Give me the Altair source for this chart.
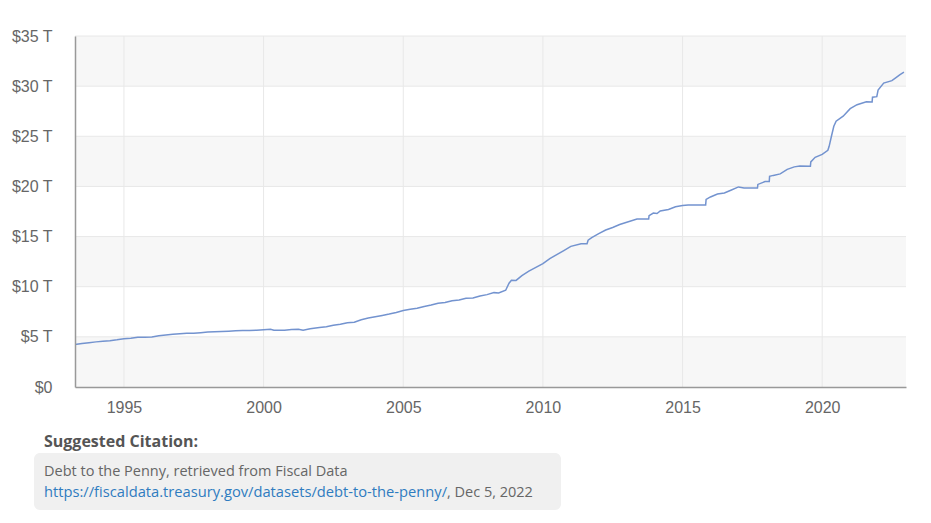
import altair as alt
import pandas as pd

# ---- data ----
dates = [
    "1993-04-01", "1993-07-01", "1993-10-01", "1994-01-01", "1994-04-01", "1994-07-01", "1994-10-01",
    "1995-01-01", "1995-04-01", "1995-07-01", "1995-10-01", "1996-01-01", "1996-04-01", "1996-07-01",
    "1996-10-01", "1997-01-01", "1997-04-01", "1997-07-01", "1997-10-01", "1998-01-01", "1998-04-01",
    "1998-07-01", "1998-10-01", "1999-01-01", "1999-04-01", "1999-07-01", "1999-10-01", "2000-01-01",
    "2000-04-01", "2000-05-15", "2000-07-01", "2000-10-01", "2001-01-01", "2001-04-01", "2001-06-01",
    "2001-09-01", "2002-01-01", "2002-04-01", "2002-07-01", "2002-10-01", "2003-01-01", "2003-04-01",
    "2003-07-01", "2003-10-01", "2004-01-01", "2004-04-01", "2004-07-01", "2004-10-01", "2005-01-01",
    "2005-04-01", "2005-07-01", "2005-10-01", "2006-01-01", "2006-04-01", "2006-07-01", "2006-10-01",
    "2007-01-01", "2007-04-01", "2007-07-01", "2007-10-01", "2008-01-01", "2008-04-01", "2008-06-01",
    "2008-09-01", "2008-10-15", "2008-11-15", "2009-01-15", "2009-04-01", "2009-07-01", "2009-10-01",
    "2010-01-01", "2010-04-01", "2010-07-01", "2010-10-01", "2011-01-01", "2011-05-15", "2011-08-01",
    "2011-08-15", "2011-10-01", "2012-01-01", "2012-04-01", "2012-07-01", "2012-10-01", "2013-01-01",
    "2013-05-15", "2013-10-15", "2013-10-20", "2013-12-15", "2014-02-01", "2014-03-15", "2014-07-01",
    "2014-10-01", "2015-01-01", "2015-03-15", "2015-10-30", "2015-11-05", "2016-01-01", "2016-04-01",
    "2016-07-01", "2016-10-01", "2017-01-01", "2017-03-15", "2017-09-07", "2017-09-12", "2017-12-15",
    "2018-02-08", "2018-02-12", "2018-04-01", "2018-07-01", "2018-10-01", "2019-01-01", "2019-03-15",
    "2019-07-31", "2019-08-05", "2019-10-01", "2020-01-01", "2020-03-15", "2020-04-01", "2020-05-01",
    "2020-06-01", "2020-07-01", "2020-10-01", "2021-01-01", "2021-04-01", "2021-08-01", "2021-10-15",
    "2021-10-20", "2021-12-15", "2022-01-01", "2022-03-15", "2022-07-01", "2022-09-01", "2022-10-15",
    "2022-12-05",
]
debt = [
    4.23, 4.33, 4.42, 4.50, 4.57, 4.62, 4.70,
    4.80, 4.86, 4.95, 4.97, 4.99, 5.12, 5.18,
    5.25, 5.31, 5.36, 5.35, 5.42, 5.49, 5.51,
    5.53, 5.56, 5.60, 5.64, 5.64, 5.67, 5.71,
    5.75, 5.65, 5.66, 5.67, 5.73, 5.75, 5.66,
    5.80, 5.93, 6.00, 6.16, 6.25, 6.40, 6.46,
    6.70, 6.87, 7.00, 7.14, 7.27, 7.43, 7.62,
    7.76, 7.86, 8.03, 8.17, 8.36, 8.42, 8.60,
    8.68, 8.85, 8.87, 9.08, 9.21, 9.41, 9.38,
    9.65, 10.35, 10.65, 10.63, 11.10, 11.55, 11.93,
    12.30, 12.80, 13.20, 13.60, 14.02, 14.29, 14.29,
    14.64, 14.90, 15.30, 15.65, 15.90, 16.20, 16.43,
    16.74, 16.74, 17.08, 17.35, 17.30, 17.55, 17.70,
    17.98, 18.10, 18.15, 18.15, 18.70, 18.95, 19.25,
    19.35, 19.65, 19.95, 19.85, 19.85, 20.20, 20.49,
    20.50, 21.00, 21.10, 21.25, 21.70, 21.95, 22.03,
    22.02, 22.45, 22.90, 23.20, 23.60, 24.00, 25.00,
    26.00, 26.50, 27.00, 27.75, 28.15, 28.45, 28.43,
    28.90, 28.95, 29.60, 30.30, 30.55, 30.90, 31.15,
    31.40,
]
band_low = [0, 10, 20, 30]
band_high = [5, 15, 25, 35]
y_ticks = [0, 5, 10, 15, 20, 25, 30, 35]
x_tick_years = [1995, 2000, 2005, 2010, 2015, 2020]

citation_title = "Suggested Citation:"
citation_line1 = "Debt to the Penny, retrieved from Fiscal Data"
citation_link = "https://fiscaldata.treasury.gov/datasets/debt-to-the-penny/"
citation_date = ", Dec 5, 2022"

W, H = 831, 351

df = pd.DataFrame({"date": dates, "debt": debt})
bands = pd.DataFrame({"lo": band_low, "hi": band_high})
hgrid = pd.DataFrame({"v": y_ticks[1:]})
vgrid = pd.DataFrame({"d": [f"{y}-01-01" for y in x_tick_years]})

xscale = alt.Scale(domain=[alt.DateTime(year=1993, month=4, date=1),
                           alt.DateTime(year=2023, month=1, date=1)])
yscale = alt.Scale(domain=[0, 35], nice=False)

xaxis = alt.Axis(values=[alt.DateTime(year=y, month=1, date=1) for y in x_tick_years],
                 format="%Y", ticks=False, grid=False, domainColor="#999999",
                 domainWidth=1.5, labelColor="#666666", labelFont="Liberation Sans",
                 labelFontSize=16, labelPadding=12, title=None, zindex=1)
yaxis = alt.Axis(values=y_ticks, ticks=False, grid=False, domainColor="#999999",
                 domainWidth=1.5, labelColor="#666666", labelFont="Liberation Sans",
                 labelFontSize=16, labelPadding=23, title=None, zindex=1,
                 labelExpr="datum.value == 0 ? '$0' : '$' + datum.value + ' T'")

band_layer = alt.Chart(bands).mark_rect(color="#f7f7f7").encode(
    x=alt.value(0), x2=alt.value(W),
    y=alt.Y("lo:Q", scale=yscale, axis=yaxis), y2="hi:Q")

hgrid_layer = alt.Chart(hgrid).mark_rule(color="#e8e8e8", strokeWidth=1).encode(
    x=alt.value(0), x2=alt.value(W),
    y=alt.Y("v:Q", scale=yscale, axis=yaxis))

vgrid_layer = alt.Chart(vgrid).mark_rule(color="#e8e8e8", strokeWidth=1).encode(
    x=alt.X("d:T", scale=xscale, axis=xaxis),
    y=alt.value(0), y2=alt.value(H))

line = alt.Chart(df).mark_line(color="#7393cf", strokeWidth=1.5).encode(
    x=alt.X("date:T", scale=xscale, axis=xaxis),
    y=alt.Y("debt:Q", scale=yscale, axis=yaxis),
)

box = alt.Chart(pd.DataFrame({"a": [0]})).mark_rect(color="#f0f0f0", cornerRadius=6).encode(
    x=alt.value(-41), x2=alt.value(486), y=alt.value(417), y2=alt.value(474))


def txt(s, x, y, color, weight="normal", size=14.5):
    return alt.Chart(pd.DataFrame({"t": [s]})).mark_text(
        align="left", baseline="alphabetic", font="Open Sans", fontSize=size,
        fontWeight=weight, color=color).encode(x=alt.value(x), y=alt.value(y), text="t:N")


chart = alt.layer(
    band_layer, hgrid_layer, vgrid_layer, line, box,
    txt(citation_title, -31, 411, "#555555", "bold", 16),
    txt(citation_line1, -31, 440, "#666666"),
    txt(citation_link, -31, 461, "#2f7cc0", size=14.7),
    txt(citation_date, 372, 461, "#666666"),
).properties(
    width=W, height=H,
    autosize=alt.AutoSizeParams(type="none"),
    padding={"left": 67, "top": 28, "right": 17, "bottom": 128},
).configure_view(stroke=None)

chart.save("out.html", embed_options={"renderer": "svg", "actions": False})
